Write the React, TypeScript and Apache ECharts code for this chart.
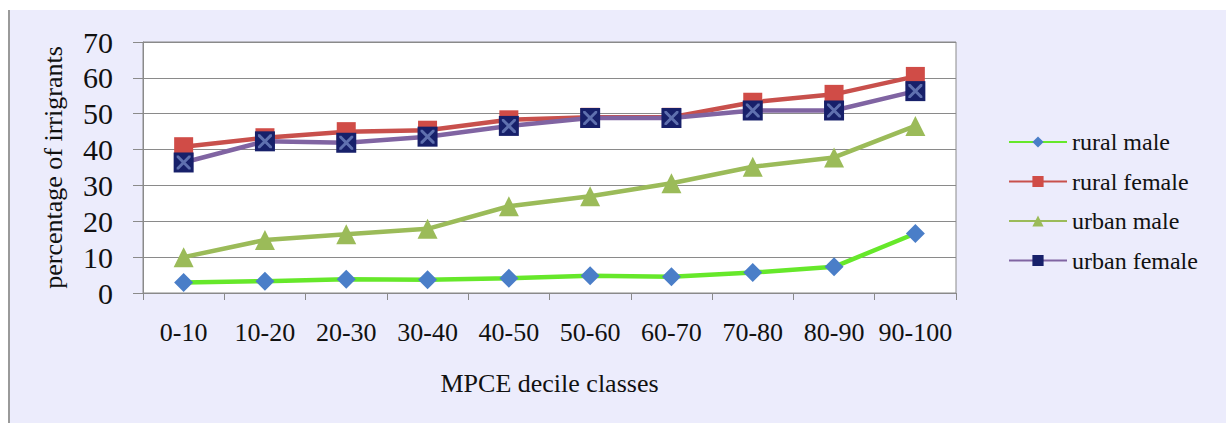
import React, { useEffect, useRef } from "react";
import * as echarts from "echarts";

const categories = ["0-10", "10-20", "20-30", "30-40", "40-50", "50-60", "60-70", "70-80", "80-90", "90-100"];
const ruralMale = [2.9, 3.3, 3.8, 3.7, 4.1, 4.8, 4.5, 5.7, 7.3, 16.6];
const ruralFemale = [40.8, 43.3, 45, 45.4, 48.3, 49, 49, 53.2, 55.4, 60.4];
const urbanMale = [10, 14.8, 16.4, 17.9, 24.2, 27, 30.6, 35.2, 37.8, 46.6];
const urbanFemale = [36.4, 42.3, 41.9, 43.6, 46.6, 48.8, 48.8, 50.9, 50.9, 56.3];
const yTicks = { min: 0, max: 70, interval: 10 };

const FONT = "Liberation Serif";
const GRID_COLOR = "#8a8a8a";
const X_PATH =
  "path://M0,0 L1.5,0 L10,8.5 L10,10 L8.5,10 L0,1.5 Z M8.5,0 L10,0 L10,1.5 L1.5,10 L0,10 L0,8.5 Z";

export default function App() {
  const ref = useRef<HTMLDivElement>(null);
  useEffect(() => {
    if (!ref.current) return;
    const chart = echarts.init(ref.current, null, { renderer: "svg" });
    chart.setOption({
      animation: false,
      textStyle: { fontFamily: FONT },
      grid: {
        left: 143,
        right: 270,
        top: 42,
        bottom: 130,
        show: true,
        backgroundColor: "#ffffff",
        borderColor: GRID_COLOR,
        borderWidth: 1,
      },
      legend: {
        orient: "vertical",
        left: 1008,
        top: 130,
        padding: 0,
        itemWidth: 58,
        itemHeight: 14,
        itemGap: 15.5,
        data: ["rural male", "rural female", "urban male", "urban female"],
        textStyle: { fontFamily: FONT, fontSize: 24, color: "#111", lineHeight: 24 },
      },
      xAxis: {
        type: "category",
        data: categories,
        boundaryGap: true,
        axisLine: { show: true, lineStyle: { color: GRID_COLOR, width: 1 } },
        axisTick: { show: true, length: 7, lineStyle: { color: GRID_COLOR } },
        axisLabel: { interval: 0, margin: 26, fontFamily: FONT, fontSize: 26, color: "#111" },
        name: "MPCE decile classes",
        nameLocation: "middle",
        nameGap: 77,
        nameTextStyle: { fontFamily: FONT, fontSize: 26, color: "#111" },
      },
      yAxis: {
        type: "value",
        min: yTicks.min,
        max: yTicks.max,
        interval: yTicks.interval,
        axisLine: { show: true, lineStyle: { color: GRID_COLOR, width: 1 } },
        axisTick: { show: true, length: 10, lineStyle: { color: GRID_COLOR } },
        splitLine: { show: true, lineStyle: { color: GRID_COLOR, width: 1 } },
        axisLabel: { margin: 30, fontFamily: FONT, fontSize: 30, color: "#111" },
        name: "percentage of irrigrants",
        nameLocation: "middle",
        nameGap: 77,
        nameTextStyle: { fontFamily: FONT, fontSize: 26, color: "#111" },
      },
      series: [
        {
          name: "rural male",
          type: "line",
          data: ruralMale,
          symbol: "diamond",
          symbolSize: 19,
          lineStyle: { color: "#66e82a", width: 4.5 },
          itemStyle: { color: "#4a7ec8" },
        },
        {
          name: "rural female",
          type: "line",
          data: ruralFemale,
          symbol: "rect",
          symbolSize: 19,
          lineStyle: { color: "#c8504c", width: 4.5 },
          itemStyle: { color: "#d04c47" },
        },
        {
          name: "urban male",
          type: "line",
          data: urbanMale,
          symbol: "triangle",
          symbolSize: 20,
          lineStyle: { color: "#9bbb59", width: 4.5 },
          itemStyle: { color: "#9bbb59" },
        },
        {
          name: "urban female",
          type: "line",
          data: urbanFemale,
          symbol: "rect",
          symbolSize: 20,
          lineStyle: { color: "#8064a2", width: 4.5 },
          itemStyle: { color: "#17206a" },
        },
        {
          name: "urban female x",
          type: "scatter",
          data: urbanFemale,
          symbol: X_PATH,
          symbolSize: 14,
          itemStyle: { color: "#7284c0" },
          z: 5,
        },
      ],
    });
    return () => chart.dispose();
  }, []);
  return (
    <div style={{ position: "fixed", left: 0, top: 0, width: 1226, height: 423, background: "#ffffff" }}>
      <div
        style={{
          position: "absolute",
          left: 8,
          top: 10,
          width: 1216,
          height: 413,
          background: "#ececfc",
          borderLeft: "2px solid #9a9a9a",
        }}
      />
      <div ref={ref} style={{ position: "absolute", left: 0, top: 0, width: 1226, height: 423 }} />
    </div>
  );
}
